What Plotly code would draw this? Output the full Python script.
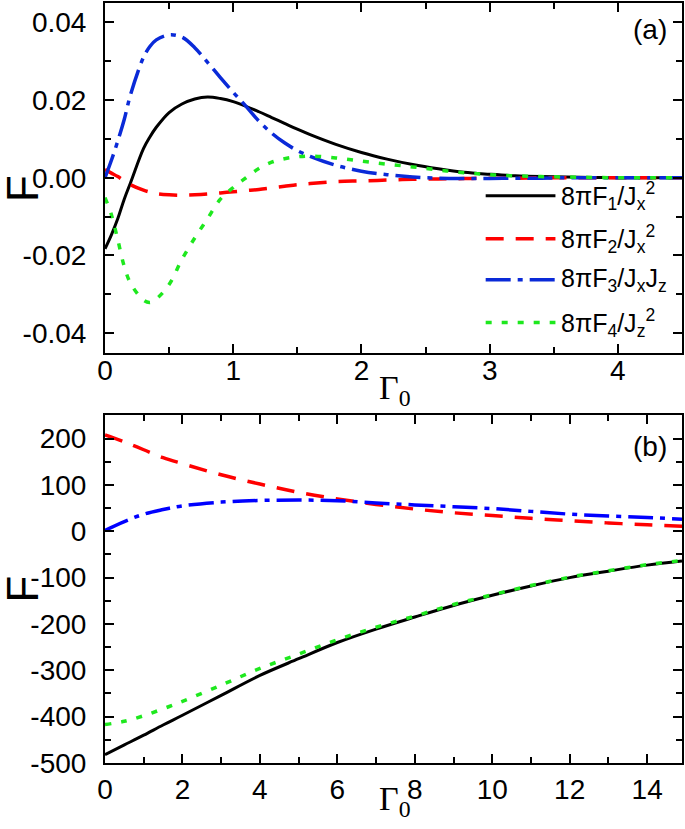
import plotly.graph_objects as go

# ---------------- data: panel (a) ----------------
x_top = [0, 0.05, 0.1, 0.15, 0.2, 0.3, 0.35, 0.4, 0.5, 0.6, 0.7, 0.8, 0.9, 1.0,
         1.1, 1.2, 1.3, 1.4, 1.5, 1.6, 1.8, 2.0, 2.2, 2.4, 2.6, 2.8, 3.0, 3.2,
         3.4, 3.6, 3.8, 4.0, 4.2, 4.5]
f1_top = [-0.0183, -0.0147, -0.0105, -0.0055, -0.0012, 0.0075, 0.0105, 0.0130,
          0.0168, 0.0190, 0.0203, 0.0208, 0.0204, 0.0196, 0.0184, 0.0170, 0.0155,
          0.0140, 0.0125, 0.0111, 0.0086, 0.0065, 0.0048, 0.0034, 0.0023, 0.0014,
          0.0009, 0.0005, 0.0003, 0.0002, 0.0001, 0.0, 0.0, 0.0]
f2_top = [0.0021, 0.0012, 0.0003, -0.0008, -0.0018, -0.0032, -0.0037, -0.0041,
          -0.0044, -0.0045, -0.0044, -0.0042, -0.0039, -0.0036, -0.0033, -0.0030,
          -0.0026, -0.0022, -0.0018, -0.0015, -0.0010, -0.0008, -0.0006, -0.0004,
          -0.0003, -0.0002, -0.0001, -0.0001, 0.0, 0.0, 0.0, 0.0, 0.0, 0.0]
f3_top = [0.0, 0.0045, 0.0095, 0.0150, 0.0215, 0.0310, 0.0338, 0.0355, 0.0368,
          0.0362, 0.0335, 0.0297, 0.0258, 0.0220, 0.0184, 0.0146, 0.0115, 0.0090,
          0.0070, 0.0055, 0.0032, 0.0017, 0.0008, 0.0002, -0.0001, -0.0002,
          -0.0002, -0.0001, -0.0001, 0.0, 0.0, 0.0, 0.0, 0.0]
f4_top = [-0.0051, -0.0095, -0.0160, -0.0228, -0.0272, -0.0315, -0.0321, -0.0312,
          -0.0275, -0.0210, -0.0155, -0.0105, -0.0055, -0.0025, 0.0, 0.0024,
          0.0040, 0.0049, 0.0054, 0.0056, 0.0051, 0.0043, 0.0035, 0.0028, 0.0020,
          0.0013, 0.0008, 0.0005, 0.0003, 0.0002, 0.0001, 0.0, 0.0, 0.0]

# ---------------- data: panel (b) ----------------
x_bot = [0, 0.5, 1, 1.5, 2, 3, 4, 5, 6, 7, 8, 9, 10, 11, 12, 13, 14, 14.9]
f1_bot = [-482, -461, -440, -418, -397, -354, -311, -275, -240, -211, -185, -160,
          -138, -118, -100, -86, -73, -64]
f2_bot = [208, 193, 176, 159, 146, 122, 102, 84, 70, 58, 48, 40, 34, 28, 23, 18,
          14, 11]
f3_bot = [2, 21, 37, 47, 55, 63, 66.5, 67.5, 66, 61, 57, 53, 49, 43, 37, 33, 30, 26]
f4_bot = [-417, -410, -398, -383, -367, -332, -296, -265, -234, -207, -183, -158,
          -137, -117, -99, -85, -72, -63]

# ---------------- tick labels ----------------
top_xvals = [0, 1, 2, 3, 4]
top_xtext = ["0", "1", "2", "3", "4"]
top_yvals = [-0.04, -0.02, 0.0, 0.02, 0.04]
top_ytext = ["-0.04", "-0.02", "0.00", "0.02", "0.04"]
bot_xvals = [0, 2, 4, 6, 8, 10, 12, 14]
bot_xtext = ["0", "2", "4", "6", "8", "10", "12", "14"]
bot_yvals = [-500, -400, -300, -200, -100, 0, 100, 200]
bot_ytext = ["-500", "-400", "-300", "-200", "-100", "0", "100", "200"]

legend_labels = ["8πF<sub>1</sub>/J<sub>x</sub><sup>2</sup>",
                 "8πF<sub>2</sub>/J<sub>x</sub><sup>2</sup>",
                 "8πF<sub>3</sub>/J<sub>x</sub>J<sub>z</sub>",
                 "8πF<sub>4</sub>/J<sub>z</sub><sup>2</sup>"]

styles = [
    dict(color="#000000", width=3, dash="solid"),
    dict(color="#FF0000", width=3.5, dash="18px,12px"),
    dict(color="#0A2AD8", width=3.5, dash="25px,7px,5px,7px"),
    dict(color="#1EE81E", width=3.5, dash="6px,10px"),
]
styles_bot = [
    dict(color="#000000", width=3, dash="solid"),
    dict(color="#FF0000", width=3.5, dash="18px,12px"),
    dict(color="#0000FF", width=3.5, dash="25px,7px,5px,7px"),
    dict(color="#1EE81E", width=3.5, dash="6px,10px"),
]

fig = go.Figure()
for ys, st in zip([f1_top, f2_top, f3_top, f4_top], styles):
    fig.add_trace(go.Scatter(x=x_top, y=ys, mode="lines", line=dict(shape="spline", **st),
                             xaxis="x", yaxis="y", showlegend=False))
for ys, st in zip([f1_bot, f2_bot, f3_bot, f4_bot], styles_bot):
    fig.add_trace(go.Scatter(x=x_bot, y=ys, mode="lines", line=dict(shape="spline", **st),
                             xaxis="x2", yaxis="y2", showlegend=False))

tickfont = dict(family="Liberation Sans, Arial", size=28, color="black")
common = dict(showline=True, linecolor="black", linewidth=2, mirror="allticks",
              ticks="inside", ticklen=9, tickwidth=2, tickcolor="black",
              showgrid=False, zeroline=False, tickfont=tickfont, tickmode="array")

H = 761.0
fig.update_layout(
    width=685, height=829,
    margin=dict(l=105, r=1, t=2, b=66),
    paper_bgcolor="white", plot_bgcolor="white",
    xaxis=dict(domain=[0, 1], anchor="y", range=[0, 4.5], tickvals=top_xvals,
               ticktext=top_xtext, ticklabelstandoff=-8,
               minor=dict(tickmode="linear", tick0=0, dtick=0.5, ticks="inside",
                          ticklen=6, tickwidth=2, tickcolor="black"), **common),
    yaxis=dict(domain=[(763 - 352) / H, 1], anchor="x", range=[-0.045, 0.045],
               tickvals=top_yvals, ticktext=top_ytext, ticklabelstandoff=11,
               minor=dict(tickmode="linear", tick0=0, dtick=0.01, ticks="inside",
                          ticklen=6, tickwidth=2, tickcolor="black"), **common),
    xaxis2=dict(domain=[0, 1], anchor="y2", range=[0, 14.9], tickvals=bot_xvals,
                ticktext=bot_xtext, ticklabelstandoff=0,
                minor=dict(tickmode="linear", tick0=0, dtick=1, ticks="inside",
                           ticklen=6, tickwidth=2, tickcolor="black"), **common),
    yaxis2=dict(domain=[0, (763 - 415) / H], anchor="x2", range=[-500, 250],
                tickvals=bot_yvals, ticktext=bot_ytext, ticklabelstandoff=11,
                minor=dict(tickmode="linear", tick0=0, dtick=50, ticks="inside",
                           ticklen=6, tickwidth=2, tickcolor="black"), **common),
)

def px2x(px):
    return (px - 105) / 579.0

def py2y(py):
    return (763 - py) / H

# legend (drawn manually to match long sample lines)
rows_py = [195, 238, 279, 322]
for lab, st, py in zip(legend_labels, styles, rows_py):
    fig.add_shape(type="line", xref="paper", yref="paper",
                  x0=px2x(487), x1=px2x(557), y0=py2y(py), y1=py2y(py),
                  line=dict(color=st["color"], width=st["width"], dash=st["dash"]))
    fig.add_annotation(xref="paper", yref="paper", x=px2x(561), y=py2y(py),
                       xanchor="left", yanchor="middle", showarrow=False, text=lab,
                       font=dict(family="Liberation Sans, Arial", size=25, color="black"))

# panel labels
for txt, py in [("(a)", 29), ("(b)", 446)]:
    fig.add_annotation(xref="paper", yref="paper", x=px2x(671), y=py2y(py),
                       xanchor="right", yanchor="middle", showarrow=False, text=txt,
                       font=dict(family="Liberation Sans, Arial", size=28, color="black"))

# axis titles
for py in [188, 589]:
    fig.add_annotation(xref="paper", yref="paper", x=px2x(22), y=py2y(py),
                       xanchor="center", yanchor="middle", showarrow=False, text="F",
                       textangle=-90,
                       font=dict(family="Liberation Sans, Arial", size=44, color="black"))
for py in [366, 778]:
    fig.add_annotation(xref="paper", yref="paper", x=px2x(378), y=py2y(py),
                       xanchor="left", yanchor="top", showarrow=False,
                       text="Γ<sub>0</sub>",
                       font=dict(family="Liberation Serif, Times New Roman", size=34,
                                 color="black"))

fig.write_html("out.html", config={"displayModeBar": False},
               post_script="document.body.style.margin='0';document.body.style.padding='0';")
